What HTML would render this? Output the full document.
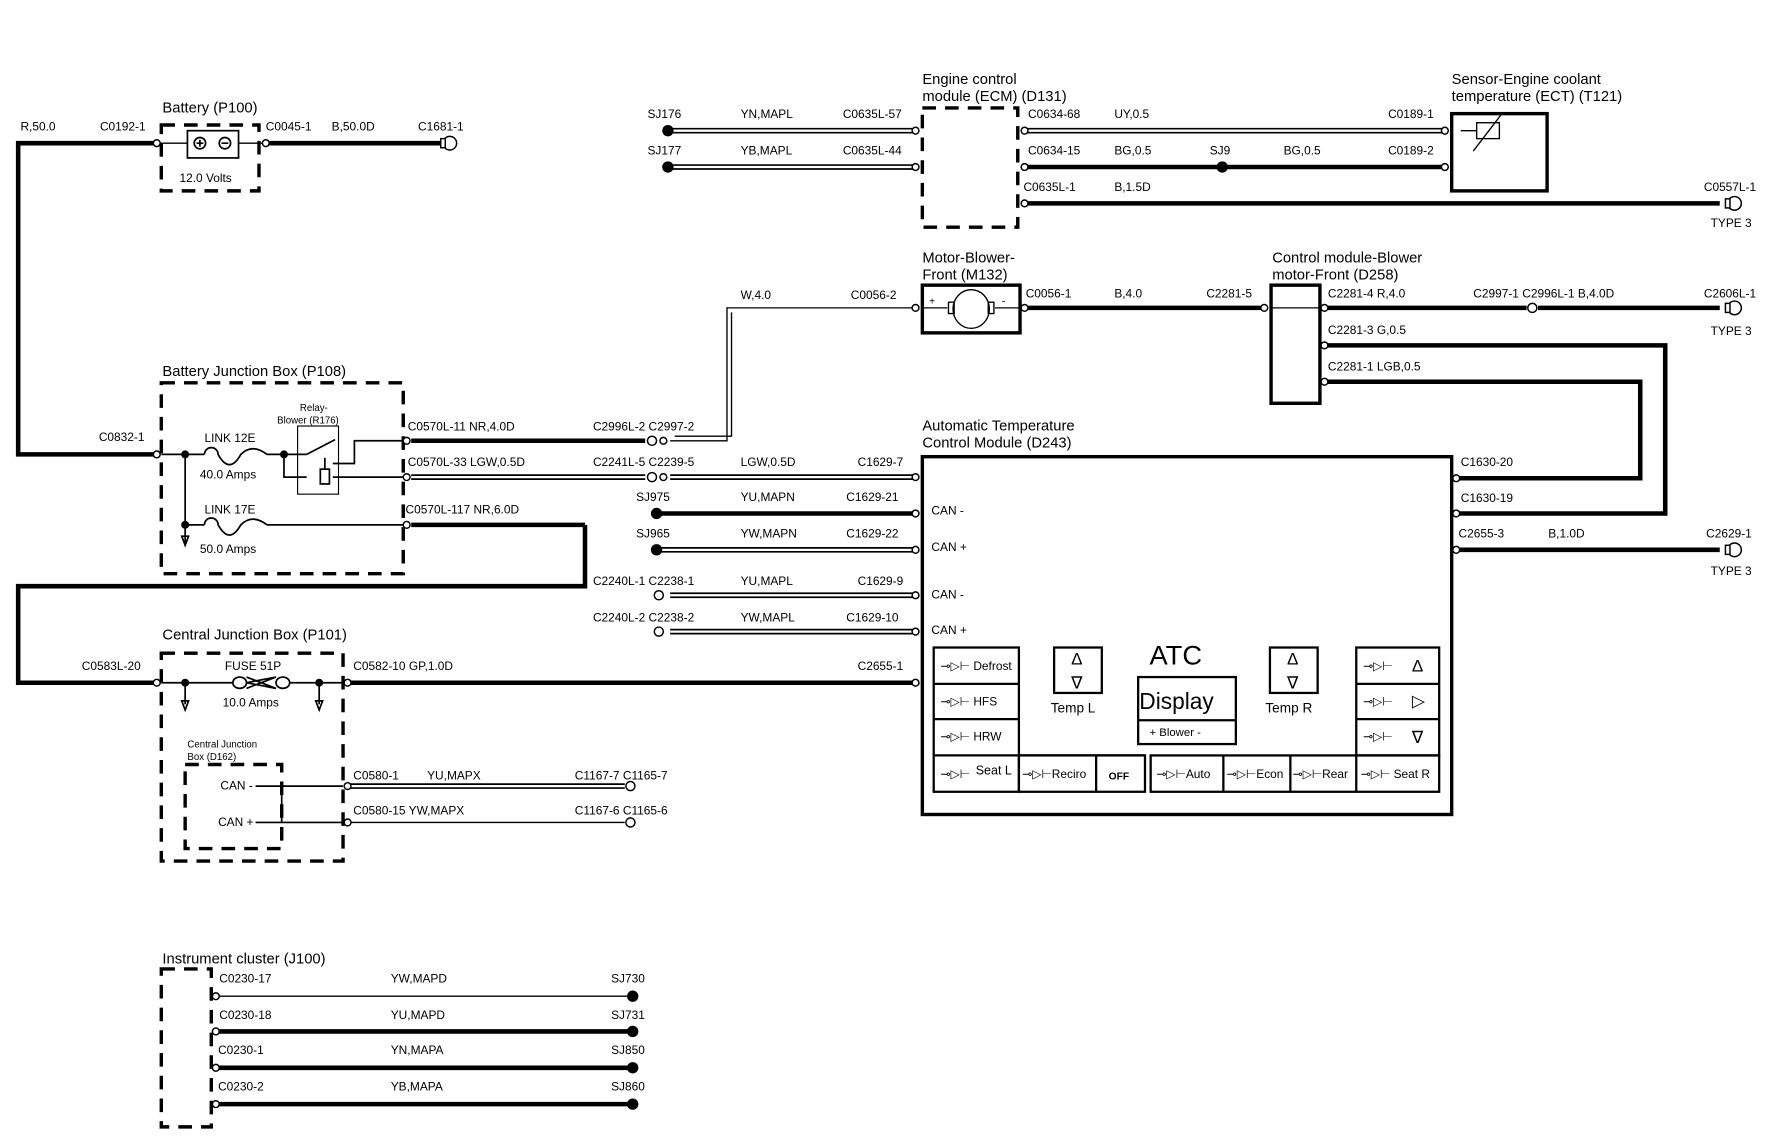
<!DOCTYPE html>
<html><head><meta charset="utf-8"><style>
html,body{margin:0;padding:0;background:#fff;}
svg{display:block;}
text{font-family:"Liberation Sans",sans-serif;fill:#000;}
.s{font-size:10.5px;}
.t{font-size:13px;}
.k{stroke:#000;fill:none;}
</style></head><body>
<svg width="1772" height="1136" viewBox="0 0 1560 1000" xmlns="http://www.w3.org/2000/svg">
<rect width="1560" height="1000" fill="#fff"/>
<g class="k" stroke-linecap="butt">
<g stroke-width="4">
<polyline points="137,126 16,126 16,400 137,400"/>
<line x1="236" y1="126" x2="388" y2="126"/>
<line x1="362" y1="462" x2="515" y2="462"/>
<polyline points="515,462 515,516 16,516 16,601 137,601"/>
<line x1="305" y1="601" x2="805" y2="601"/>
<line x1="362" y1="388" x2="568" y2="388"/>
<line x1="903" y1="147" x2="1272" y2="147"/>
<line x1="903" y1="179" x2="1514" y2="179"/>
<line x1="903" y1="271" x2="1110" y2="271"/>
<line x1="1166" y1="271" x2="1344" y2="271"/>
<line x1="1354" y1="271" x2="1514" y2="271"/>
<polyline points="1166,304 1466,304 1466,452 1284,452"/>
<polyline points="1166,336 1444,336 1444,421 1284,421"/>
<line x1="1284" y1="484" x2="1514" y2="484"/>
<line x1="580" y1="452" x2="805" y2="452"/>
<line x1="190" y1="908" x2="557" y2="908"/>
<line x1="190" y1="940" x2="557" y2="940"/>
<line x1="190" y1="972" x2="557" y2="972"/>
</g>
<g stroke-width="5">
<line x1="590" y1="115" x2="805" y2="115"/><line x1="590" y1="147" x2="805" y2="147"/>
<line x1="903" y1="115" x2="1272" y2="115"/>
<line x1="362" y1="420" x2="568" y2="420"/><line x1="590" y1="420" x2="805" y2="420"/>
<line x1="580" y1="484" x2="805" y2="484"/>
<line x1="590" y1="524" x2="805" y2="524"/><line x1="590" y1="556" x2="805" y2="556"/>
<line x1="305" y1="692" x2="550" y2="692"/>
</g>
<g stroke-width="2" stroke="#fff">
<line x1="590" y1="115" x2="805" y2="115"/><line x1="590" y1="147" x2="805" y2="147"/>
<line x1="903" y1="115" x2="1272" y2="115"/>
<line x1="362" y1="420" x2="568" y2="420"/><line x1="590" y1="420" x2="805" y2="420"/>
<line x1="580" y1="484" x2="805" y2="484"/>
<line x1="590" y1="524" x2="805" y2="524"/><line x1="590" y1="556" x2="805" y2="556"/>
<line x1="305" y1="692" x2="550" y2="692"/>
</g>
<g stroke-width="1.2">
<polyline points="590,388 640,388 640,271 805,271"/>
<polyline points="594,384 644,384 644,275"/>
<line x1="190" y1="877" x2="557" y2="877"/>
<line x1="305" y1="724" x2="550" y2="724"/>
<line x1="210" y1="126" x2="236" y2="126"/><line x1="140" y1="126" x2="165" y2="126"/>
</g>
<g stroke-width="3" stroke-dasharray="12,8">
<rect x="142" y="110" width="86" height="58"/>
<rect x="142" y="337" width="213" height="168"/>
<rect x="142" y="575" width="160" height="183"/>
<rect x="163" y="673" width="85" height="74"/>
<rect x="142" y="853" width="44" height="139"/>
<rect x="812" y="95" width="84" height="105"/>
</g>
<rect x="165" y="115" width="45" height="24" stroke-width="1.5"/>
<circle cx="176" cy="126" r="5" stroke-width="1.5"/><circle cx="198" cy="126" r="5" stroke-width="1.5"/>
<path d="M173 126h6M176 123v6M195 126h6" stroke-width="1.5"/>
<g stroke-width="1.5">
<line x1="142" y1="400" x2="180" y2="400"/><line x1="163" y1="400" x2="163" y2="480"/>
<line x1="163" y1="462" x2="180" y2="462"/><line x1="235" y1="462" x2="355" y2="462"/>
<path d="M180 400 a6 6 0 0 1 12 0 q10 18 20 0 q10 -10 23 0"/>
<path d="M180 462 a6 6 0 0 1 12 0 q10 18 20 0 q10 -10 23 0"/>
<line x1="235" y1="400" x2="270" y2="400"/>
<polyline points="250,400 250,420 270,420"/>
<line x1="270" y1="400" x2="295" y2="387"/>
<polyline points="293,408 312,408 312,388 355,388"/>
<line x1="293" y1="420" x2="355" y2="420"/>
<rect x="282" y="413" width="8" height="13"/><line x1="286" y1="413" x2="286" y2="403"/>
<path d="M163 480 l-3 -8 h6 z"/>
</g>
<rect x="262" y="375" width="36" height="60" stroke-width="1"/>
<g stroke-width="1.5">
<line x1="142" y1="601" x2="205" y2="601"/><line x1="255" y1="601" x2="302" y2="601"/>
<ellipse cx="211" cy="601" rx="6" ry="5"/><ellipse cx="249" cy="601" rx="6" ry="5"/>
<path d="M217 601 L243 596 M217 601 L243 606 M217 596 L243 606 M217 606 L243 596"/>
<line x1="163" y1="601" x2="163" y2="620"/><line x1="281" y1="601" x2="281" y2="620"/>
<path d="M163 625 l-3 -8 h6 z M281 625 l-3 -8 h6 z"/>
<polyline points="225,692 248,692 302,692"/><polyline points="225,724 248,724 302,724"/>
<line x1="248" y1="692" x2="248" y2="724"/>
</g>
<g stroke-width="3">
<rect x="1278" y="100" width="84" height="68"/>
<rect x="812" y="251" width="86" height="42"/>
<rect x="1119" y="251" width="43" height="104"/>
<rect x="812" y="402" width="466" height="315"/>
</g>
<g stroke-width="1.2">
<polyline points="1286,115 1300,115 M1320,115 1335,115 1351,115 1351,147 1280,147"/>
<rect x="1300" y="108" width="20" height="14"/>
<line x1="1297" y1="133" x2="1323" y2="99"/>
<line x1="1119" y1="271" x2="1162" y2="271"/>
<ellipse cx="855" cy="272" rx="16" ry="17"/>
<line x1="812" y1="271" x2="834" y2="271"/><line x1="876" y1="271" x2="898" y2="271"/>
<rect x="835" y="266" width="5" height="10"/><rect x="870" y="266" width="5" height="10"/>
</g>
<g stroke-width="2">
<rect x="822" y="570" width="75" height="127"/>
<line x1="822" y1="602" x2="897" y2="602"/><line x1="822" y1="633" x2="897" y2="633"/><line x1="822" y1="665" x2="1008" y2="665"/>
<rect x="897" y="665" width="111" height="32"/><line x1="965" y1="665" x2="965" y2="697"/>
<rect x="1013" y="665" width="254" height="32"/>
<line x1="1077" y1="665" x2="1077" y2="697"/><line x1="1136" y1="665" x2="1136" y2="697"/><line x1="1194" y1="665" x2="1194" y2="697"/>
<rect x="1194" y="570" width="73" height="95"/>
<line x1="1194" y1="602" x2="1267" y2="602"/><line x1="1194" y1="633" x2="1267" y2="633"/>
<rect x="928" y="570" width="42" height="40"/>
<rect x="1118" y="570" width="42" height="40"/>
<rect x="1002" y="596" width="86" height="59"/><line x1="1002" y1="634" x2="1088" y2="634"/>
</g>
</g>
<g fill="#000">
<circle cx="588" cy="115" r="5"/><circle cx="588" cy="147" r="5"/><circle cx="1076" cy="147" r="5"/>
<circle cx="578" cy="452" r="5"/><circle cx="578" cy="484" r="5"/>
<circle cx="163" cy="400" r="3.5"/><circle cx="163" cy="462" r="3.5"/><circle cx="250" cy="400" r="3.5"/>
<circle cx="163" cy="601" r="3.5"/><circle cx="281" cy="601" r="3.5"/>
<circle cx="557" cy="877" r="5"/><circle cx="557" cy="908" r="5"/><circle cx="557" cy="940" r="5"/><circle cx="557" cy="972" r="5"/>
</g>
<g fill="#fff" stroke="#000" stroke-width="1.3">
<circle cx="138" cy="126" r="3"/><circle cx="234" cy="126" r="3"/><circle cx="138" cy="400" r="3"/><circle cx="358" cy="388" r="3"/><circle cx="358" cy="420" r="3"/><circle cx="358" cy="462" r="3"/>
<circle cx="138" cy="601" r="3"/><circle cx="306" cy="601" r="3"/><circle cx="306" cy="692" r="3"/><circle cx="306" cy="724" r="3"/>
<circle cx="806" cy="115" r="3"/><circle cx="806" cy="147" r="3"/><circle cx="902" cy="115" r="3"/><circle cx="902" cy="147" r="3"/><circle cx="902" cy="179" r="3"/>
<circle cx="1272" cy="115" r="3"/><circle cx="1272" cy="147" r="3"/>
<circle cx="806" cy="271" r="3"/><circle cx="902" cy="271" r="3"/><circle cx="1113" cy="271" r="3"/><circle cx="1166" cy="271" r="3"/><circle cx="1166" cy="304" r="3"/><circle cx="1166" cy="336" r="3"/>
<circle cx="806" cy="420" r="3"/><circle cx="806" cy="452" r="3"/><circle cx="806" cy="484" r="3"/><circle cx="806" cy="524" r="3"/><circle cx="806" cy="556" r="3"/><circle cx="806" cy="601" r="3"/>
<circle cx="1282" cy="421" r="3"/><circle cx="1282" cy="452" r="3"/><circle cx="1282" cy="484" r="3"/>
<circle cx="574" cy="388" r="4"/><circle cx="584" cy="388" r="3"/><circle cx="574" cy="420" r="4"/><circle cx="584" cy="420" r="3"/>
<circle cx="580" cy="524" r="4"/><circle cx="580" cy="556" r="4"/><circle cx="1349" cy="271" r="4"/>
<circle cx="555" cy="692" r="4"/><circle cx="555" cy="724" r="4"/>
<circle cx="190" cy="877" r="3"/><circle cx="190" cy="908" r="3"/><circle cx="190" cy="940" r="3"/><circle cx="190" cy="972" r="3"/>
<circle cx="396" cy="126" r="6"/><circle cx="1527" cy="179" r="6"/><circle cx="1527" cy="271" r="6"/><circle cx="1527" cy="484" r="6"/>
<rect x="388" y="122" width="4" height="8"/><rect x="1519" y="175" width="4" height="8"/><rect x="1519" y="267" width="4" height="8"/><rect x="1519" y="480" width="4" height="8"/>
</g>
<g class="t">
<text x="143" y="99">Battery (P100)</text>
<text x="143" y="331">Battery Junction Box (P108)</text>
<text x="143" y="563">Central Junction Box (P101)</text>
<text x="143" y="848">Instrument cluster (J100)</text>
<text x="812" y="74">Engine control</text><text x="812" y="89">module (ECM) (D131)</text>
<text x="1278" y="74">Sensor-Engine coolant</text><text x="1278" y="89">temperature (ECT) (T121)</text>
<text x="812" y="231">Motor-Blower-</text><text x="812" y="246">Front (M132)</text>
<text x="1120" y="231">Control module-Blower</text><text x="1120" y="246">motor-Front (D258)</text>
<text x="812" y="379">Automatic Temperature</text><text x="812" y="394">Control Module (D243)</text>
<text x="859" y="682" font-size="11">Seat L</text>
</g>
<g class="s">
<text x="18" y="115">R,50.0</text><text x="88" y="115">C0192-1</text><text x="234" y="115">C0045-1</text><text x="292" y="115">B,50.0D</text><text x="368" y="115">C1681-1</text>
<text x="158" y="160">12.0 Volts</text>
<text x="87" y="388">C0832-1</text><text x="180" y="389">LINK 12E</text><text x="176" y="421">40.0 Amps</text>
<text x="180" y="452">LINK 17E</text><text x="176" y="487">50.0 Amps</text>
<text x="264" y="362" font-size="8.5">Relay-</text><text x="244" y="373" font-size="8.5">Blower (R176)</text>
<text x="359" y="379">C0570L-11  NR,4.0D</text><text x="359" y="410">C0570L-33  LGW,0.5D</text><text x="357" y="452">C0570L-117 NR,6.0D</text>
<text x="522" y="379">C2996L-2 C2997-2</text><text x="522" y="410">C2241L-5 C2239-5</text>
<text x="652" y="263">W,4.0</text><text x="749" y="263">C0056-2</text>
<text x="652" y="410">LGW,0.5D</text><text x="755" y="410">C1629-7</text>
<text x="560" y="441">SJ975</text><text x="652" y="441">YU,MAPN</text><text x="745" y="441">C1629-21</text>
<text x="560" y="473">SJ965</text><text x="652" y="473">YW,MAPN</text><text x="745" y="473">C1629-22</text>
<text x="522" y="515">C2240L-1 C2238-1</text><text x="652" y="515">YU,MAPL</text><text x="755" y="515">C1629-9</text>
<text x="522" y="547">C2240L-2 C2238-2</text><text x="652" y="547">YW,MAPL</text><text x="745" y="547">C1629-10</text>
<text x="755" y="590">C2655-1</text>
<text x="820" y="453">CAN -</text><text x="820" y="485">CAN +</text><text x="820" y="527">CAN -</text><text x="820" y="558">CAN +</text>
<text x="72" y="590">C0583L-20</text><text x="198" y="590">FUSE 51P</text><text x="196" y="622">10.0 Amps</text>
<text x="311" y="590">C0582-10  GP,1.0D</text>
<text x="165" y="658" font-size="8.5">Central Junction</text><text x="165" y="669" font-size="8.5">Box (D162)</text>
<text x="194" y="695">CAN -</text><text x="192" y="727">CAN +</text>
<text x="311" y="686">C0580-1</text><text x="376" y="686">YU,MAPX</text><text x="506" y="686">C1167-7 C1165-7</text>
<text x="311" y="717">C0580-15  YW,MAPX</text><text x="506" y="717">C1167-6 C1165-6</text>
<text x="193" y="865">C0230-17</text><text x="344" y="865">YW,MAPD</text><text x="538" y="865">SJ730</text>
<text x="193" y="897">C0230-18</text><text x="344" y="897">YU,MAPD</text><text x="538" y="897">SJ731</text>
<text x="192" y="928">C0230-1</text><text x="344" y="928">YN,MAPA</text><text x="538" y="928">SJ850</text>
<text x="192" y="960">C0230-2</text><text x="344" y="960">YB,MAPA</text><text x="538" y="960">SJ860</text>
<text x="570" y="104">SJ176</text><text x="652" y="104">YN,MAPL</text><text x="742" y="104">C0635L-57</text>
<text x="570" y="136">SJ177</text><text x="652" y="136">YB,MAPL</text><text x="742" y="136">C0635L-44</text>
<text x="905" y="104">C0634-68</text><text x="981" y="104">UY,0.5</text><text x="1222" y="104">C0189-1</text>
<text x="905" y="136">C0634-15</text><text x="981" y="136">BG,0.5</text><text x="1065" y="136">SJ9</text><text x="1130" y="136">BG,0.5</text><text x="1222" y="136">C0189-2</text>
<text x="901" y="168">C0635L-1</text><text x="981" y="168">B,1.5D</text><text x="1500" y="168">C0557L-1</text><text x="1506" y="200">TYPE 3</text>
<text x="903" y="262">C0056-1</text><text x="981" y="262">B,4.0</text><text x="1062" y="262">C2281-5</text>
<text x="1169" y="262">C2281-4  R,4.0</text><text x="1297" y="262">C2997-1 C2996L-1  B,4.0D</text><text x="1500" y="262">C2606L-1</text><text x="1506" y="295">TYPE 3</text>
<text x="1169" y="294">C2281-3  G,0.5</text><text x="1169" y="326">C2281-1  LGB,0.5</text>
<text x="1286" y="410">C1630-20</text><text x="1286" y="442">C1630-19</text>
<text x="1284" y="473">C2655-3</text><text x="1363" y="473">B,1.0D</text><text x="1502" y="473">C2629-1</text><text x="1506" y="506">TYPE 3</text>
<text x="818" y="268" font-size="9">+</text><text x="882" y="268" font-size="9">-</text>
<text x="828" y="590">⊸▷⊢ Defrost</text><text x="828" y="621">⊸▷⊢  HFS</text><text x="828" y="652">⊸▷⊢ HRW</text>
<text x="828" y="685">⊸▷⊢</text><text x="900" y="685">⊸▷⊢Reciro</text><text x="976" y="686" font-size="9" font-weight="bold">OFF</text>
<text x="1018" y="685">⊸▷⊢Auto</text><text x="1080" y="685">⊸▷⊢Econ</text><text x="1138" y="685">⊸▷⊢Rear</text><text x="1198" y="685">⊸▷⊢  Seat R</text>
<text x="1200" y="590">⊸▷⊢</text><text x="1200" y="621">⊸▷⊢</text><text x="1200" y="652">⊸▷⊢</text>
<text x="1243" y="591" font-size="15">Δ</text><text x="1243" y="622" font-size="15">▷</text><text x="1243" y="654" font-size="15">∇</text>
<text x="943" y="585" font-size="15">Δ</text><text x="943" y="606" font-size="15">∇</text>
<text x="1133" y="585" font-size="15">Δ</text><text x="1133" y="606" font-size="15">∇</text>
<text x="925" y="627" font-size="12">Temp L</text><text x="1114" y="627" font-size="12">Temp R</text>
<text x="1012" y="648" font-size="10">+  Blower  -</text>
</g>
<text x="1012" y="585" font-size="24" font-family="Liberation Sans">ATC</text>
<text x="1003" y="624" font-size="20" font-family="Liberation Sans">Display</text>
</svg>
</body></html>
